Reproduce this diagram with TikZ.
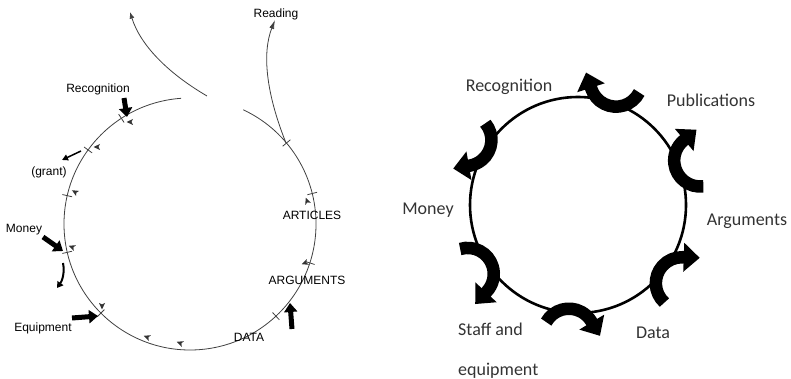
\documentclass[tikz,border=0pt]{standalone}
\usepackage{fontspec}
\setmainfont{Liberation Sans}
\newfontfamily\calib{Carlito}
\usetikzlibrary{arrows.meta,positioning}
\tikzset{>=Latex}
\tikzset{
  thin line/.style={draw=black!75,line width=0.8pt},
  tickmark/.style={draw=black!75,line width=0.8pt},
  fat/.style={line width=5pt,-{Triangle[width=13pt,length=9pt]}},
  bump/.style={line width=12.5pt,-{Triangle[width=28pt,length=16pt]}},
  old label/.style={font=\fontsize{12}{14}\selectfont,inner sep=0pt},
  new label/.style={font=\calib\fontsize{18}{22}\selectfont,text=black!80,inner sep=0pt}
}
\newcommand{\halftip}[3]{\fill[black!80,shift={(#1,#2)},rotate=#3] (3.5,0) -- (-3,3) -- (-1.5,0) -- (-3,-3) -- cycle;}
% angle on the circle, start and end of the hook arc
\newcommand{\bump}[3]{\draw[bump,rotate=#1] (130,0) ++(#2:26) arc[start angle=#2, end angle=#3, radius=26] -- ++(#3-90:17);}

\begin{document}
\begin{tikzpicture}[x=1pt,y=1pt]
\useasboundingbox (0,0) rectangle (791,379);
% old cycle, left
\begin{scope}[shift={(190,155)}]
\draw[thin line] (94:126) arc[start angle=94, end angle=425, radius=126];
\draw[tickmark] (123:121) -- (123:131);
\draw[tickmark] (144:121) -- (144:131);
\draw[tickmark] (167:121) -- (167:131);
\draw[tickmark] (193:121) -- (193:131);
\draw[tickmark] (225:121) -- (225:131);
\draw[tickmark] (313:121) -- (313:131);
\draw[tickmark] (342:121) -- (342:131);
\draw[tickmark] (14:121) -- (14:131);
\draw[tickmark] (40:121) -- (40:131);
\end{scope}
\draw[thin line,->] (207,283) .. controls (166,307) and (140,335) .. (130,367);
\draw[thin line,-{Latex[length=9pt,width=5pt]}] (286,236) .. controls (266,286) and (262,326) .. (275,359);
\halftip{130}{257}{180}
\halftip{97}{232}{180}
\halftip{75}{187}{150}
\halftip{72}{132}{160}
\halftip{102}{73}{270}
\halftip{147}{42}{160}
\halftip{180}{36}{160}
\halftip{305}{116}{200}
\halftip{307}{178}{110}
\draw[fat] (124,281) -- (127,262);
\draw[fat] (43,142) -- (63,128);
\draw[fat] (72,61) -- (98,63);
\draw[fat] (292,50) -- (290,76);
\draw[line width=2pt,-{Triangle[width=7pt,length=6pt]}] (63,116) .. controls (65,106) and (62,98) .. (57,91);
\draw[line width=1.5pt,-{Triangle[width=6pt,length=6pt]}] (81,228) -- (62,219);
\node[old label] (reading) at (276,365) {Reading};
\node[old label] (recog) at (98,290) {Recognition};
\node[old label] (grant) at (49,207) {(grant)};
\node[old label] (money) at (24,149) {Money};
\node[old label] (equip) at (43,51) {Equipment};
\node[old label] (data) at (249,42) {DATA};
\node[old label] (args) at (307,99) {ARGUMENTS};
\node[old label] (articles) at (312,164) {ARTICLES};
% new cycle, right
\begin{scope}[shift={(578,174)}]
\draw[line width=2.6pt] (0,0) circle[radius=108];
\bump{73}{260}{125}
\bump{150}{250}{130}
\bump{20}{257}{110}
\bump{212}{255}{105}
\bump{266}{245}{125}
\bump{323}{265}{125}
\end{scope}
\node[new label] (recognition) at (509,292) {Recognition};
\node[new label] (publications) at (711,279) {Publications};
\node[new label] (cash) at (428,169) {Money};
\node[new label] (arguments) at (747,158) {Arguments};
\node[new label] (datum) at (653,46) {Data};
\node[new label,align=left,anchor=north west] (staff) at (458,56) {Staff and\\[18pt]equipment};
\end{tikzpicture}
\end{document}
